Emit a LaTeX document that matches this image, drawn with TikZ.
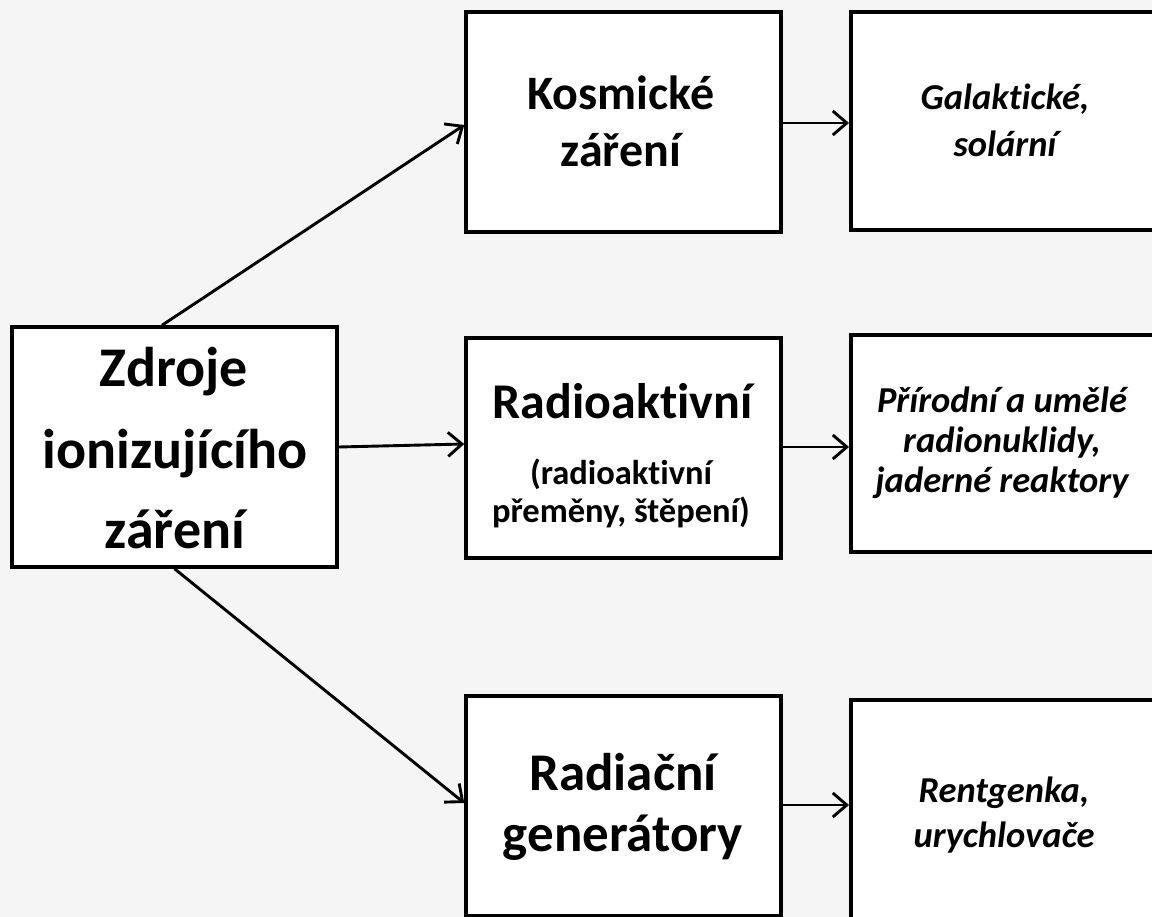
\documentclass[tikz,border=0pt]{standalone}
\usepackage{fontspec}
\setmainfont{Carlito}[Ligatures=NoCommon]
\usetikzlibrary{arrows.meta,calc}
\definecolor{pagebg}{RGB}{245,245,245}

\begin{document}
\begin{tikzpicture}[x=1pt,y=-1pt,
  box/.style={draw, line width=3.5pt, fill=white, rectangle, inner sep=0pt},
  txt/.style={anchor=base, inner sep=0pt, font=\bfseries\fontsize{#1}{#1}\selectfont},
  itx/.style={anchor=base, inner sep=0pt, font=\bfseries\itshape\fontsize{#1}{#1}\selectfont},
  conn/.style={line width=2.9pt, -{Straight Barb[length=14pt,width=24pt,line width=2.9pt]}}]

\useasboundingbox[fill=pagebg] (0,0) rectangle (1152,917);

% source box
\node[box, minimum width=325pt, minimum height=240pt] (src) at (174.5,447) {};
\node[txt=56] (src1) at (174,387) {Zdroje};
\node[txt=56] (src2) at (175,468) {ionizujícího};
\node[txt=56] (src3) at (175,548) {záření};

% middle column
\node[box, minimum width=315pt, minimum height=220pt] (kos) at (623.5,122) {};
\node[txt=48] (kos1) at (621,110) {Kosmické};
\node[txt=48] (kos2) at (621,167) {záření};

\node[box, minimum width=315pt, minimum height=220pt] (rad) at (623.5,448) {};
\node[txt=50] (rad1) at (622.5,419) {Radioaktivní};
\node[txt=34.5] (rad2) at (621,484) {(radioaktivní};
\node[txt=34.5] (rad3) at (621,522) {přeměny, štěpení)};

\node[box, minimum width=315pt, minimum height=220pt] (gen) at (623.5,806) {};
\node[txt=53] (gen1) at (623,790) {Radiační};
\node[txt=53] (gen2) at (623,851) {generátory};

% right column (runs off the page edge)
\node[box, minimum width=340pt, minimum height=218pt, anchor=west] (gal) at (849,121) {};
\node[itx=36.5] (gal1) at (1005,110) {Galaktické,};
\node[itx=36.5] (gal2) at (1005,157) {solární};

\node[box, minimum width=340pt, minimum height=217pt, anchor=west] (pri) at (849,443.5) {};
\node[itx=36.5] (pri1) at (1002,413) {Přírodní a umělé};
\node[itx=36.5] (pri2) at (1002,453) {radionuklidy,};
\node[itx=36.5] (pri3) at (1002,492) {jaderné reaktory};

\node[box, minimum width=340pt, minimum height=230pt, anchor=west] (ren) at (849,815) {};
\node[itx=36.5] (ren1) at (1004,802) {Rentgenka,};
\node[itx=36.5] (ren2) at (1004,847) {urychlovače};

% connectors
\draw[conn] ($(src.north west)!0.462!(src.north east)$) -- ($(kos.west)+(0,3)$);
\draw[conn] (src.east) -- ($(rad.west)+(0,-4)$);
\draw[conn] (src.south) -- ($(gen.west)+(0,-3)$);

\draw[conn] ($(kos.east)+(0,1)$) -- ($(kos.east -| gal.west)+(0,1)$);
\draw[conn] ($(rad.east)+(0,-1)$) -- ($(rad.east -| pri.west)+(0,-1)$);
\draw[conn] ($(gen.east)+(0,-1)$) -- ($(gen.east -| ren.west)+(0,-1)$);
\end{tikzpicture}
\end{document}
